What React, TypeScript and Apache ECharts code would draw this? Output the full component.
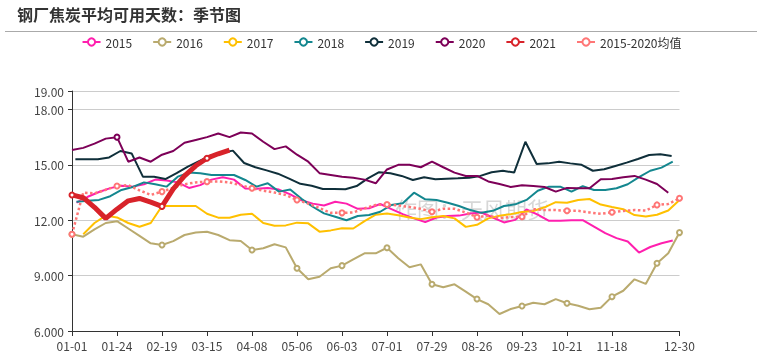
import React, { useEffect, useRef } from 'react';
import * as echarts from 'echarts';

// Weekly category dates (MM-DD), one per week of the season
const weekDates = ['01-01','01-05','01-11','01-17','01-24','01-30','02-07','02-13','02-19','02-25','03-03','03-09','03-15','03-21','03-27','04-02','04-08','04-15','04-22','04-29','05-06','05-13','05-20','05-27','06-03','06-10','06-17','06-24','07-01','07-08','07-15','07-22','07-29','08-05','08-12','08-19','08-26','09-02','09-09','09-16','09-23','09-30','10-07','10-14','10-21','10-28','11-04','11-11','11-18','11-25','12-02','12-09','12-16','12-23','12-30'];
// Dates shown as tick labels on the x axis
const labelDates = ['01-01','01-24','02-19','03-15','04-08','05-06','06-03','07-01','07-29','08-26','09-23','10-21','11-18','12-30'];

const seriesNames = ['2015','2016','2017','2018','2019','2020','2021','2015-2020均值'];

const v2015 = [12.95,13.27,13.53,13.74,13.87,13.82,13.95,14.2,14.15,14.05,13.75,13.9,14.2,14.33,14.2,13.72,13.7,13.75,13.66,13.4,13.08,12.9,12.8,13.0,12.9,12.62,12.65,12.88,12.6,12.33,12.1,11.9,12.15,12.23,12.25,12.37,12.42,12.15,11.88,12.02,12.58,12.3,11.97,11.97,12.0,12.0,11.65,11.3,11.03,10.85,10.25,10.55,10.75,10.9];
const v2016 = [11.24,11.11,11.5,11.85,11.95,11.55,11.15,10.75,10.66,10.87,11.2,11.33,11.38,11.2,10.92,10.88,10.39,10.48,10.7,10.53,9.4,8.8,8.94,9.4,9.54,9.88,10.21,10.21,10.51,9.94,9.45,9.61,8.53,8.37,8.53,8.13,7.73,7.45,6.92,7.19,7.35,7.53,7.45,7.73,7.5,7.37,7.18,7.26,7.86,8.18,8.8,8.55,9.67,10.21,11.33];
const v2017 = [null,11.24,11.85,12.25,12.15,11.85,11.65,11.85,12.77,12.77,12.77,12.77,12.35,12.14,12.13,12.3,12.35,11.85,11.7,11.72,11.87,11.83,11.38,11.45,11.57,11.55,11.95,12.3,12.37,12.27,12.15,12.06,12.16,12.23,12.1,11.64,11.75,12.1,12.24,12.33,12.45,12.5,12.7,12.98,12.95,13.1,13.15,12.85,12.72,12.6,12.28,12.2,12.3,12.53,13.1];
const v2018 = [13.0,13.05,13.1,13.3,13.64,13.8,14.05,13.95,13.82,14.36,14.58,14.54,14.45,14.45,14.45,14.18,13.82,14.0,13.55,13.66,13.16,12.73,12.37,12.19,12.0,12.23,12.28,12.46,12.83,12.92,13.49,13.13,13.1,12.95,12.77,12.55,12.4,12.51,12.77,12.86,13.1,13.6,13.82,13.82,13.55,13.85,13.64,13.64,13.73,13.95,14.33,14.68,14.85,15.17];
const v2019 = [15.3,15.3,15.3,15.4,15.75,15.62,14.36,14.36,14.23,14.55,14.9,15.2,15.5,15.65,15.77,15.1,14.87,14.7,14.52,14.25,13.97,13.87,13.69,13.69,13.68,13.85,14.27,14.6,14.54,14.4,14.18,14.33,14.22,14.25,14.27,14.3,14.4,14.6,14.68,14.58,16.25,15.05,15.08,15.17,15.08,15.0,14.68,14.76,14.94,15.12,15.32,15.53,15.57,15.48];
const v2020 = [15.8,15.92,16.15,16.42,16.5,15.17,15.4,15.17,15.55,15.75,16.2,16.35,16.5,16.7,16.5,16.75,16.7,16.25,15.85,16.0,15.55,15.17,14.55,14.45,14.35,14.3,14.2,14.0,14.75,15.0,15.0,14.87,15.17,14.87,14.58,14.4,14.4,14.1,13.96,13.8,13.9,13.85,13.8,13.55,13.75,13.73,13.73,14.22,14.23,14.33,14.4,14.2,13.96,13.49];
const v2021 = [13.37,13.22,12.7,12.1,12.6,13.05,13.18,12.98,12.75,13.7,14.4,14.95,15.36,15.6,15.8];
const vAvg = [11.24,13.5,13.45,13.65,13.85,13.9,13.62,13.37,13.55,13.75,13.95,14.05,14.09,14.1,14.05,13.9,13.73,13.6,13.5,13.37,13.1,12.9,12.66,12.4,12.4,12.42,12.64,12.83,12.85,12.8,12.72,12.62,12.46,12.62,12.62,12.42,12.16,12.25,12.12,12.17,12.19,12.6,12.55,12.55,12.51,12.51,12.42,12.35,12.43,12.5,12.55,12.52,12.83,12.88,13.19];

// Week offset of each year's reporting dates relative to the weekly grid
const weekOffsets = [0.4, 0, 0, 0.4, 0.3, 0, 0, 0];
// Weeks whose report date coincides with a labelled date (marker shown)
const markers2016 = ['01-01','02-19','04-08','05-06','06-03','07-01','07-29','08-26','09-23','10-21','11-18','12-16','12-30'];
const markers2020 = ['01-24'];
const markers2021 = ['01-01','02-19','03-15'];
const markersAvg = ['01-01','01-24','02-19','03-15','04-08','05-06','06-03','07-01','07-29','08-26','09-23','10-21','11-18','12-16','12-30'];

const colors = ['#ff1fae','#b9aa6e','#ffc000','#14878f','#0f2f3a','#7d0058','#d8232a','#ff7676'];

const FONT = "'Noto Sans CJK SC', 'Noto Sans', sans-serif";

function build(vals: (number | null)[], offset: number, markerDates: string[]) {
  const mk = markerDates.map((d) => weekDates.indexOf(d));
  const out: any[] = [];
  vals.forEach((v, k) => {
    if (v == null) return;
    out.push({ value: [k + offset, v], symbol: mk.includes(k) ? 'emptyCircle' : 'none' });
  });
  return out;
}

export default function App() {
  const ref = useRef<HTMLDivElement>(null);
  useEffect(() => {
    const chart = echarts.init(ref.current!, null, { renderer: 'svg' });
    const values = [v2015, v2016, v2017, v2018, v2019, v2020, v2021, vAvg];
    const markerSets = [[], markers2016, [], [], [], markers2020, markers2021, markersAvg];
    const labelPos = labelDates.map((d) => weekDates.indexOf(d));
    const series = seriesNames.map((name, i) => {
      const isAvg = i === 7;
      const is2021 = i === 6;
      return {
        name,
        type: 'line',
        data: build(values[i], weekOffsets[i], markerSets[i]),
        symbol: 'emptyCircle',
        symbolSize: 5,
        lineStyle: {
          color: colors[i],
          width: is2021 ? 5 : isAvg ? 2.5 : 2,
          type: isAvg ? 'dotted' : 'solid',
        },
        itemStyle: { color: colors[i], borderColor: colors[i], borderWidth: 1.2 },
        emphasis: { disabled: true },
        z: is2021 ? 4 : 2,
      };
    });
    chart.setOption({
      animation: false,
      color: colors,
      textStyle: { fontFamily: FONT },
      title: {
        text: '钢厂焦炭平均可用天数：季节图',
        left: 12,
        top: 1,
        textStyle: { fontSize: 16, fontWeight: 'bold', color: '#333', fontFamily: FONT },
      },
      legend: {
        data: seriesNames,
        top: 31,
        left: 'center',
        itemWidth: 18,
        itemHeight: 9,
        itemGap: 20,
        lineStyle: { type: 'solid' },
        textStyle: { fontSize: 12, color: '#333', fontFamily: FONT },
      },
      graphic: [
        {
          type: 'line',
          shape: { x1: 5, y1: 31.5, x2: 757, y2: 31.5 },
          style: { stroke: '#aaaaaa', lineWidth: 1 },
          silent: true,
        },
        {
          type: 'text',
          left: 395,
          top: 197,
          z: 0,
          silent: true,
          style: { text: '作图：天风期货', fontSize: 22, fill: 'rgba(140,140,140,0.35)', fontFamily: FONT },
        },
      ],
      grid: { left: 72, right: 83.5, top: 91, bottom: 24, containLabel: false },
      xAxis: {
        type: 'value',
        min: 0,
        max: weekDates.length - 1,
        splitLine: { show: false },
        axisLine: { show: true, lineStyle: { color: '#333' } },
        axisTick: { show: true, customValues: labelPos, length: 5, lineStyle: { color: '#333' } },
        axisLabel: {
          customValues: labelPos,
          formatter: (v: number) => weekDates[Math.round(v)],
          color: '#444',
          fontSize: 12,
          margin: 8,
          fontFamily: FONT,
        },
      },
      yAxis: {
        type: 'value',
        min: 6,
        max: 19,
        interval: 3,
        axisLine: { show: true, lineStyle: { color: '#333' } },
        axisTick: { show: true, length: 4, lineStyle: { color: '#333' } },
        splitLine: { show: true, lineStyle: { color: '#cccccc' } },
        axisLabel: {
          formatter: (v: number) => v.toPrecision(4),
          color: '#444',
          fontSize: 12,
          margin: 8,
          fontFamily: FONT,
        },
      },
      series,
    });
    return () => chart.dispose();
  }, []);
  return <div ref={ref} style={{ position: 'fixed', left: 0, top: 0, width: 763, height: 355 }} />;
}
